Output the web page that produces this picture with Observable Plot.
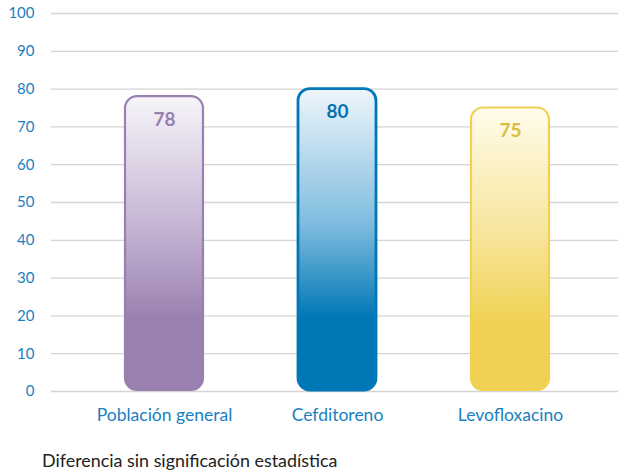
<!DOCTYPE html>
<html>
<head>
<meta charset="utf-8">
<script src="https://cdn.jsdelivr.net/npm/d3@7"></script>
<script src="https://cdn.jsdelivr.net/npm/@observablehq/plot@0.6"></script>
<style>
  html, body { margin: 0; padding: 0; background: #fff; }
  body { width: 618px; height: 472px; overflow: hidden; font-family: Lato, "Open Sans", sans-serif; }
  #caption { font-family: Lato, sans-serif; font-size: 17.9px; color: #222; margin: 14px 0 0 42px; line-height: 1.2; }
</style>
</head>
<body>
<div id="chart"></div>
<div id="caption">Diferencia sin significación estadística</div>
<script>
const categories = ["Población general", "Cefditoreno", "Levofloxacino"];
const values = [78, 80, 75];
const yTicks = [0, 10, 20, 30, 40, 50, 60, 70, 80, 90, 100];
const strokeColors = ["#9a80b0", "#0077b6", "#f0d154"];
const topColors = ["#f7f5f9", "#eef6fb", "#fffcec"];
const midColors = ["#c4b3d3", "#7fbcdf", "#f7e59a"];
const labelColors = ["#9a80b0", "#0a72b0", "#d9bd45"];
const strokeWidths = [2.2, 2.8, 2.2];

const data = categories.map((c, i) => ({cat: c, value: values[i], i}));

const chart = Plot.plot({
  width: 618,
  height: 436,
  marginTop: 13,
  marginBottom: 45,
  marginLeft: 51,
  marginRight: 0,
  style: {fontFamily: "Lato, sans-serif", background: "transparent"},
  x: {domain: categories, paddingInner: 0.55, paddingOuter: 0.409, align: 0.52, label: null, tickSize: 0, tickPadding: 17},
  y: {domain: [0, 100], ticks: yTicks, label: null, tickSize: 0, tickPadding: 17},
  color: {type: "identity"},
  marks: [
    Plot.ruleY(yTicks, {stroke: "#d4d4d4", strokeWidth: 1.3}),
    Plot.axisY({ticks: yTicks, tickSize: 0, tickPadding: 17, fontSize: 15, fill: "#1a7fc0", label: null}),
    Plot.axisX({tickSize: 0, tickPadding: 17, fontSize: 17.5, fill: "#1a7fc0", label: null}),
    Plot.barY(data, {x: "cat", y: "value", fill: d => `url(#grad${d.i})`, stroke: d => strokeColors[d.i], strokeWidth: d => strokeWidths[d.i], rx: 12, insetBottom: 1}),
    Plot.text(data, {x: "cat", y: "value", text: d => String(d.value), dy: 23, fill: d => labelColors[d.i], fontSize: 19, fontWeight: "bold"})
  ]
});

const svg = d3.select(chart);
const defs = svg.insert("defs", ":first-child");
strokeColors.forEach((c, i) => {
  const g = defs.append("linearGradient").attr("id", `grad${i}`).attr("x1", 0).attr("y1", 0).attr("x2", 0).attr("y2", 1);
  g.append("stop").attr("offset", "0%").attr("stop-color", topColors[i]);
  g.append("stop").attr("offset", "45%").attr("stop-color", midColors[i]);
  g.append("stop").attr("offset", "76%").attr("stop-color", c);
  g.append("stop").attr("offset", "100%").attr("stop-color", c);
});
document.getElementById("chart").appendChild(chart);
</script>
</body>
</html>
